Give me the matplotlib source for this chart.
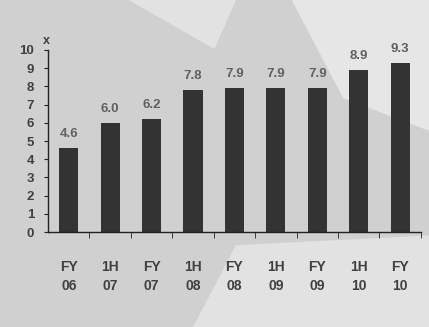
import numpy as np
import matplotlib
matplotlib.use('Agg')
import matplotlib.pyplot as plt
from matplotlib.patches import Polygon

periods = ['FY\n06', '1H\n07', 'FY\n07', '1H\n08', 'FY\n08', '1H\n09', 'FY\n09', '1H\n10', 'FY\n10']
multiples = [4.6, 6.0, 6.2, 7.8, 7.9, 7.9, 7.9, 8.9, 9.3]
y_ticks = [0, 1, 2, 3, 4, 5, 6, 7, 8, 9, 10]

plt.rcParams['font.family'] = ['Liberation Sans', 'DejaVu Sans']

fig = plt.figure(figsize=(4.29, 3.27), dpi=100, facecolor='#d0d0d0')
# lighter patches of the scanned background
fig.patches.append(Polygon([[0.68, 1.0], [1.0, 1.0], [1.0, 0.6], [0.8, 0.7]],
                           closed=True, transform=fig.transFigure,
                           facecolor='#e6e6e6', edgecolor='none', zorder=-10))
fig.patches.append(Polygon([[0.3, 1.0], [0.55, 1.0], [0.5, 0.85]],
                           closed=True, transform=fig.transFigure,
                           facecolor='#e2e2e2', edgecolor='none', zorder=-10))
fig.patches.append(Polygon([[0.45, 0.0], [1.0, 0.0], [1.0, 0.28], [0.55, 0.25]],
                           closed=True, transform=fig.transFigure,
                           facecolor='#e2e2e2', edgecolor='none', zorder=-10))

ax = fig.add_axes([0.112, 0.2905, 0.869, 0.5566])
ax.set_facecolor('none')

x = np.arange(len(periods))
bars = ax.bar(x, multiples, width=0.46, color='#333333', zorder=2)
for xi, v in zip(x, multiples):
    ax.text(xi, v + 0.45, f'{v:.1f}', ha='center', va='bottom',
            fontsize=9.5, fontweight='bold', color='#606060')

ax.set_xlim(-0.5, len(periods) - 0.5)
ax.set_ylim(0, 10)
ax.set_yticks(y_ticks)
ax.set_yticklabels([str(t) for t in y_ticks], fontsize=9.5, fontweight='bold', color='#404040')
ax.set_xticks(x)
ax.set_xticklabels(periods, fontsize=10, fontweight='bold', color='#404040', linespacing=1.5)
ax.set_xticks(np.arange(len(periods)) + 0.5, minor=True)
ax.tick_params(axis='x', which='major', length=0, pad=20)
ax.tick_params(axis='x', which='minor', length=4, direction='out', color='#222222')
ax.tick_params(axis='y', length=3, direction='out', pad=7, color='#222222')

for side in ['top', 'right']:
    ax.spines[side].set_visible(False)
for side in ['left', 'bottom']:
    ax.spines[side].set_color('#222222')
    ax.spines[side].set_linewidth(1.0)

ax.text(-0.55, 10.15, 'x', fontsize=9, fontweight='bold', color='#404040',
        ha='center', va='bottom')

fig.savefig('out.png', dpi=100, facecolor=fig.get_facecolor())
